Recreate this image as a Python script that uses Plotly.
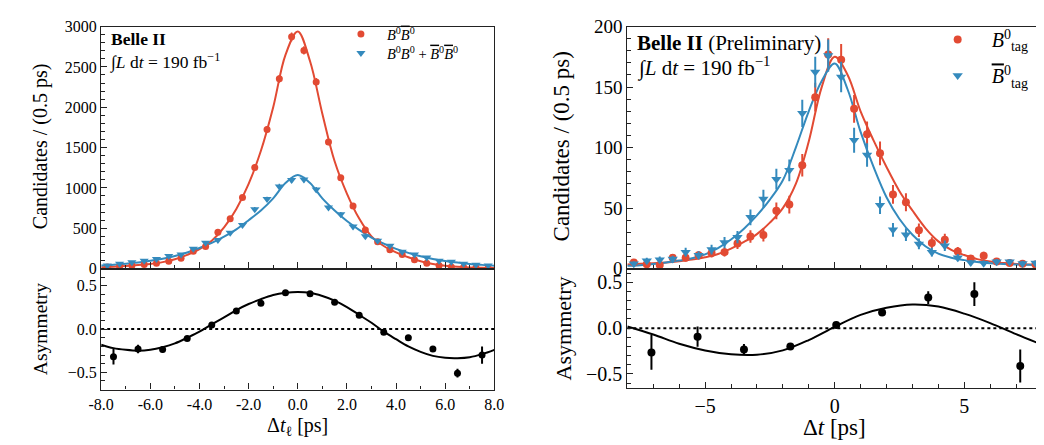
import plotly.graph_objects as go

# ---------------- data: left panel ----------------
t_bins = [-7.75 + 0.5 * i for i in range(32)]
left_oppsign = [20, 27, 39, 51, 67, 90, 129, 216, 274, 451, 619, 882, 1254, 1725, 2352, 2873,
                2705, 2313, 1568, 1125, 776, 478, 333, 235, 176, 110, 67, 39, 20, 18, 12, 8]
left_oppsign_err = [4.5, 5.2, 6.2, 7.1, 8.2, 9.5, 11.4, 14.7, 16.6, 21.2, 24.9, 29.7, 35.4, 41.5, 48.5, 53.6,
                    52, 48.1, 39.6, 33.5, 27.9, 21.9, 18.2, 15.3, 13.3, 10.5, 8.2, 6.2, 4.5, 4.2, 3.5, 2.8]
left_samesign = [39, 59, 78, 98, 118, 157, 176, 247, 321, 353, 443, 541, 737, 862, 1019, 1098,
                 1105, 980, 757, 674, 521, 400, 345, 282, 208, 176, 137, 98, 86, 59, 47, 39]
left_samesign_err = [6.2, 7.7, 8.8, 9.9, 10.9, 12.5, 13.3, 15.7, 17.9, 18.8, 21, 23.3, 27.1, 29.4, 31.9, 33.1,
                     33.2, 31.3, 27.5, 26, 22.8, 20, 18.6, 16.8, 14.4, 13.3, 11.7, 9.9, 9.3, 7.7, 6.9, 6.2]

t_fit = [-8 + 0.5 * i for i in range(33)]
left_fit_opp = [18, 24, 32, 43, 58, 80, 115, 170, 240, 345, 510, 740, 1050, 1460, 2000, 2650, 2940,
                2570, 1920, 1330, 930, 620, 400, 280, 200, 140, 92, 58, 35, 22, 14, 9, 6]
left_fit_same = [37, 47, 60, 76, 97, 123, 157, 200, 255, 318, 395, 487, 600, 720, 870, 1060, 1160,
                 1060, 870, 720, 590, 480, 385, 310, 245, 195, 152, 120, 95, 74, 58, 46, 36]

asym_l_x = [-7.5 + i for i in range(16)]
asym_l_y = [-0.32, -0.23, -0.237, -0.11, 0.047, 0.21, 0.30, 0.42, 0.41, 0.31, 0.16, -0.036,
            -0.10, -0.23, -0.51, -0.30]
asym_l_err = [0.09, 0.05, 0.035, 0.02, 0.015, 0.012, 0.012, 0.012, 0.012, 0.012, 0.012, 0.015,
              0.02, 0.035, 0.05, 0.1]
asym_l_fit = [-0.18, -0.22, -0.24, -0.25, -0.24, -0.21, -0.165, -0.10, -0.03, 0.055, 0.135, 0.22,
              0.29, 0.347, 0.394, 0.42, 0.43, 0.42, 0.383, 0.33, 0.255, 0.164, 0.073, -0.03,
              -0.117, -0.2, -0.263, -0.31, -0.332, -0.336, -0.325, -0.29, -0.24]

# ---------------- data: right panel ----------------
right_b0 = [5, 3.5, 3, 8.9, 8.9, 11, 12.8, 13.6, 20.7, 26.5, 27.7, 47.7, 52.9, 85.4, 141.7, 177,
            172.6, 132, 111, 95.3, 61.3, 54.8, 31.7, 21.2, 23.8, 14.1, 8.4, 10.7, 5.8, 4.7, 4, 3.4]
right_b0_err = [2.2, 1.9, 1.7, 3, 3, 3.3, 3.6, 3.7, 4.6, 5.1, 5.3, 6.9, 7.3, 9.2, 11.9, 13.3,
                13.1, 11.5, 10.5, 9.8, 7.8, 7.4, 5.6, 4.6, 4.9, 3.8, 2.9, 3.3, 2.4, 2.2, 2, 1.8]
right_b0bar = [3.9, 6.5, 7.3, 7.9, 13.6, 11, 15.7, 21.5, 26, 42.4, 57.6, 73.9, 81.2, 128.3, 162.4, 176,
               158.4, 106, 93.8, 52.4, 32, 28, 20.4, 13.6, 18.9, 9, 5, 4.5, 5.6, 5.6, 4.3, 4.6]
right_b0bar_err = [2, 2.5, 2.7, 2.8, 3.7, 3.3, 4, 4.6, 5.1, 6.5, 7.6, 8.6, 9, 11.3, 12.7, 13.3,
                   12.6, 10.3, 9.7, 7.2, 5.7, 5.3, 4.5, 3.7, 4.3, 3, 2.2, 2.1, 2.4, 2.4, 2.1, 2.1]
right_fit_b0 = [3.3, 3.9, 4.5, 5.1, 6.1, 7.4, 9.3, 12, 16.5, 22, 28.5, 38, 50, 70, 105, 150, 175,
                160, 130, 106, 84, 64, 48, 33.5, 22.5, 15.5, 11.2, 7.8, 5.8, 4.7, 3.8, 3.3, 2.8]
right_fit_b0bar = [2.3, 2.8, 3.8, 5.1, 6.6, 8.5, 11.8, 17, 24, 33, 44, 57, 73, 100, 130, 155, 169.5,
                   148, 113, 84, 59, 41, 28, 18.5, 12.3, 9, 7, 5.4, 4.4, 3.8, 3.4, 3.1, 2.9]

asym_r_x = [-7.07, -5.29, -3.50, -1.71, 0.06, 1.83, 3.61, 5.39, 7.16]
asym_r_y = [-0.265, -0.093, -0.234, -0.2, 0.035, 0.172, 0.334, 0.372, -0.414]
asym_r_err = [0.19, 0.11, 0.06, 0.02, 0.015, 0.02, 0.07, 0.13, 0.18]
asym_r_fit_x = [-8, -7, -6, -5, -4, -3, -2, -1, 0, 1, 2, 3, 4, 5, 6, 7, 8]
asym_r_fit_y = [0.017, -0.07, -0.17, -0.243, -0.285, -0.29, -0.243, -0.13, 0.014, 0.145, 0.222,
                0.258, 0.235, 0.158, 0.055, -0.066, -0.18]

RED = "#E24A33"
BLUE = "#348ABD"
FONT = "Liberation Serif, Times New Roman, Times, serif"
W, H = 1044, 445
BBAR = '<i><span style="text-decoration:overline">B</span></i>'


def px(x):
    return x / W


def py(y):
    return 1 - y / H


fig = go.Figure()

# left top
fig.add_trace(go.Scatter(x=t_fit, y=left_fit_opp, mode="lines", line=dict(color=RED, width=2, shape="spline"),
                         xaxis="x", yaxis="y", showlegend=False, hoverinfo="skip"))
fig.add_trace(go.Scatter(x=t_fit, y=left_fit_same, mode="lines", line=dict(color=BLUE, width=2, shape="spline"),
                         xaxis="x", yaxis="y", showlegend=False, hoverinfo="skip"))
fig.add_trace(go.Scatter(x=t_bins, y=left_oppsign, mode="markers", xaxis="x", yaxis="y",
                         marker=dict(color=RED, size=7, symbol="circle"),
                         error_y=dict(type="data", array=left_oppsign_err, color=RED, thickness=1.5, width=0),
                         name="<i>B</i><sup>0</sup>" + BBAR + "<sup>0</sup>", legend="legend"))
fig.add_trace(go.Scatter(x=t_bins, y=left_samesign, mode="markers", xaxis="x", yaxis="y",
                         marker=dict(color=BLUE, size=8, symbol="triangle-down"),
                         error_y=dict(type="data", array=left_samesign_err, color=BLUE, thickness=1.5, width=0),
                         name="<i>B</i><sup>0</sup><i>B</i><sup>0</sup> + " + BBAR + "<sup>0</sup>" + BBAR + "<sup>0</sup>",
                         legend="legend3"))
# left bottom
fig.add_trace(go.Scatter(x=t_fit, y=asym_l_fit, mode="lines", line=dict(color="black", width=2, shape="spline"),
                         xaxis="x2", yaxis="y2", showlegend=False, hoverinfo="skip"))
fig.add_trace(go.Scatter(x=asym_l_x, y=asym_l_y, mode="markers", xaxis="x2", yaxis="y2",
                         marker=dict(color="black", size=7),
                         error_y=dict(type="data", array=asym_l_err, color="black", thickness=2, width=0),
                         showlegend=False))
# right top
fig.add_trace(go.Scatter(x=t_fit, y=right_fit_b0, mode="lines", line=dict(color=RED, width=2, shape="spline"),
                         xaxis="x3", yaxis="y3", showlegend=False, hoverinfo="skip"))
fig.add_trace(go.Scatter(x=t_fit, y=right_fit_b0bar, mode="lines", line=dict(color=BLUE, width=2, shape="spline"),
                         xaxis="x3", yaxis="y3", showlegend=False, hoverinfo="skip"))
fig.add_trace(go.Scatter(x=t_bins, y=right_b0, mode="markers", xaxis="x3", yaxis="y3",
                         marker=dict(color=RED, size=8, symbol="circle"),
                         error_y=dict(type="data", array=right_b0_err, color=RED, thickness=2, width=0),
                         name="<i>B</i><sup>0</sup><sub>tag</sub>", legend="legend2"))
fig.add_trace(go.Scatter(x=t_bins, y=right_b0bar, mode="markers", xaxis="x3", yaxis="y3",
                         marker=dict(color=BLUE, size=9, symbol="triangle-down"),
                         error_y=dict(type="data", array=right_b0bar_err, color=BLUE, thickness=2, width=0),
                         name=BBAR + "<sup>0</sup><sub>tag</sub>", legend="legend4"))
# right bottom
fig.add_trace(go.Scatter(x=asym_r_fit_x, y=asym_r_fit_y, mode="lines",
                         line=dict(color="black", width=2, shape="spline", smoothing=1),
                         xaxis="x4", yaxis="y4", showlegend=False, hoverinfo="skip"))
fig.add_trace(go.Scatter(x=asym_r_x, y=asym_r_y, mode="markers", xaxis="x4", yaxis="y4",
                         marker=dict(color="black", size=8),
                         error_y=dict(type="data", array=asym_r_err, color="black", thickness=2, width=0),
                         showlegend=False))

LX = [px(82), px(484)]
RX = [px(620), 1.0]
TOPY = [py(263), py(9)]
LBY = [py(390), py(263)]
RBY = [py(388), py(263)]

axis_common = dict(showline=True, mirror=True, linecolor="#222", linewidth=1.3, ticks="inside",
                   ticklen=6, tickwidth=1, tickcolor="#222", showgrid=False, zeroline=False)
minor_common = dict(ticks="inside", ticklen=3.5, tickwidth=1, tickcolor="#222", showgrid=False)

xl_vals = [-8, -6, -4, -2, 0, 2, 4, 6, 8]
xl_text = ["-8.0", "-6.0", "-4.0", "-2.0", "0.0", "2.0", "4.0", "6.0", "8.0"]
xr_vals = [-5, 0, 5]
xr_text = ["−5", "0", "5"]
ya_vals = [-0.5, 0, 0.5]
ya_text = ["−0.5", "0.0", "0.5"]

leg_l = dict(xanchor="left", yanchor="top", bgcolor="rgba(0,0,0,0)", font=dict(size=14.5, family=FONT),
             itemwidth=42)
leg_r = dict(xanchor="left", yanchor="top", bgcolor="rgba(0,0,0,0)", font=dict(size=20, family=FONT),
             itemwidth=58)

fig.update_layout(
    width=W, height=H, margin=dict(l=0, r=0, t=0, b=0),
    paper_bgcolor="white", plot_bgcolor="white",
    font=dict(family=FONT, color="black"),
    xaxis=dict(domain=LX, range=[-8, 8], anchor="y", tickvals=xl_vals, showticklabels=False,
               minor=dict(dtick=1, **minor_common), **axis_common),
    yaxis=dict(domain=TOPY, range=[0, 3000], anchor="x", dtick=500, tickfont=dict(size=16, family=FONT),
               minor=dict(dtick=100, **minor_common), **axis_common),
    xaxis2=dict(domain=LX, range=[-8, 8], anchor="y2", tickvals=xl_vals, ticktext=xl_text,
                tickfont=dict(size=16, family=FONT), minor=dict(dtick=1, **minor_common), **axis_common),
    yaxis2=dict(domain=LBY, range=[-0.7, 0.7], anchor="x2", tickvals=ya_vals, ticktext=ya_text,
                tickfont=dict(size=16, family=FONT), minor=dict(dtick=0.1, **minor_common), **axis_common),
    xaxis3=dict(domain=RX, range=[-8, 8], anchor="y3", tickvals=xr_vals, showticklabels=False,
                minor=dict(dtick=1, **minor_common), **axis_common),
    yaxis3=dict(domain=TOPY, range=[0, 200], anchor="x3", dtick=50, tickfont=dict(size=19, family=FONT),
                minor=dict(dtick=10, **minor_common), **axis_common),
    xaxis4=dict(domain=RX, range=[-8, 8], anchor="y4", tickvals=xr_vals, ticktext=xr_text,
                tickfont=dict(size=20, family=FONT), minor=dict(dtick=1, **minor_common), **axis_common),
    yaxis4=dict(domain=RBY, range=[-0.65, 0.65], anchor="x4", tickvals=ya_vals, ticktext=ya_text,
                tickfont=dict(size=20, family=FONT), minor=dict(dtick=0.1, **minor_common), **axis_common),
    legend=dict(x=px(321), y=1.0, **leg_l),
    legend3=dict(x=px(321), y=py(20), **leg_l),
    legend2=dict(x=px(923), y=py(2), **leg_r),
    legend4=dict(x=px(923), y=py(40), **leg_r),
)

# dotted zero lines
for xr, yr in (("x2 domain", "y2"), ("x4 domain", "y4")):
    fig.add_shape(type="line", xref=xr, yref=yr, x0=0, x1=1, y0=0, y1=0,
                  line=dict(color="black", width=2, dash="dot"), layer="below")

ann = []


def add_text(text, x, y, size, angle=0, xanchor="center"):
    ann.append(dict(text=text, x=x, y=y, xref="paper", yref="paper", showarrow=False,
                    font=dict(size=size, family=FONT, color="black"), textangle=angle,
                    xanchor=xanchor, yanchor="middle"))


add_text("Candidates / (0.5 ps)", px(20), py(135), 20, -90)
add_text("Asymmetry", px(20), py(327), 19.5, -90)
add_text("Δ<i>t</i><sub>ℓ</sub> [ps]", px(283), py(429), 20)
add_text("Candidates / (0.5 ps)", px(553), py(135), 23, -90)
add_text("Asymmetry", px(555), py(326), 22, -90)
add_text("Δ<i>t</i> [ps]", px(832), py(430), 23)
add_text("<b>Belle II</b>", px(90), py(22), 17.5, xanchor="left")
add_text("∫<i>L</i> d<i>t</i> = 190 fb<sup>−1</sup>", px(89), py(46), 17.5, xanchor="left")
add_text("<b>Belle II</b> (Preliminary)", px(628), py(26), 21, xanchor="left")
add_text("∫<i>L</i> d<i>t</i> = 190 fb<sup>−1</sup>", px(628), py(51), 21, xanchor="left")
fig.update_layout(annotations=ann)

fig.write_html("out.html")
